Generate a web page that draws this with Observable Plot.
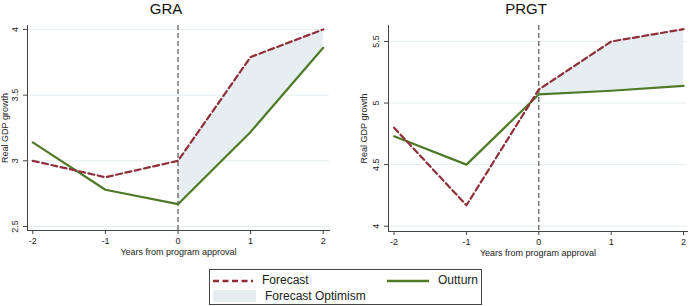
<!DOCTYPE html>
<html>
<head>
<meta charset="utf-8">
<script src="https://cdn.jsdelivr.net/npm/d3@7"></script>
<script src="https://cdn.jsdelivr.net/npm/@observablehq/plot@0.6"></script>
<style>
  html, body { margin: 0; padding: 0; background: #fff; }
  body { width: 690px; height: 306px; position: relative; overflow: hidden; font-family: "Liberation Sans", Arial, sans-serif; }
  .panel { position: absolute; top: 0; }
  .title { position: absolute; top: -1px; font-size: 15px; color: #111; text-align: center; width: 100px; line-height: 20px; }
  .legend { position: absolute; left: 209px; top: 269px; width: 273px; height: 36px; border: 1px solid #444; box-sizing: border-box; font-size: 12px; color: #222; }
  .legend .item { position: absolute; display: flex; align-items: center; }
  .legend svg { display: block; margin-right: 9px; }
</style>
</head>
<body>
<div id="root"></div>
<script>
// ---- data ----
const years = [-2, -1, 0, 1, 2];
const approvalYear = 0;
const graForecast = [3.0, 2.875, 3.0, 3.79, 4.0];
const graOutturn  = [3.14, 2.78, 2.67, 3.22, 3.86];
const prgtForecast = [4.80, 4.17, 5.11, 5.50, 5.60];
const prgtOutturn  = [4.73, 4.50, 5.07, 5.10, 5.14];
const graTicks = [2.5, 3, 3.5, 4];
const prgtTicks = [4, 4.5, 5, 5.5];
const xTicks = [-2, -1, 0, 1, 2];
const titles = ["GRA", "PRGT"];
const xLabel = "Years from program approval";
const yLabel = "Real GDP growth";
const legendLabels = ["Forecast", "Outturn", "Forecast Optimism"];

const forecastColor = "#8f2f3a";
const outturnColor = "#4f7a28";
const optimismColor = "#e6eef2";
const gridColor = "#e4edf0";

function rows(f, o) {
  return years.map((y, i) => ({year: y, forecast: f[i], outturn: o[i]}));
}

function panel({data, yTicks, xDomain, yDomain, marginLeft, marginRight, marginBottom, yLabelOffset}) {
  const after = data.filter(d => d.year >= approvalYear);
  return Plot.plot({
    width: 345,
    height: 260,
    marginTop: 25,
    marginLeft, marginRight, marginBottom,
    style: {fontFamily: "'Liberation Sans', Arial, sans-serif", fontSize: "9px", color: "#222", background: "transparent"},
    x: {domain: xDomain},
    y: {domain: yDomain},
    marks: [
      Plot.gridY(yTicks, {stroke: gridColor, strokeOpacity: 1, strokeWidth: 1}),
      Plot.areaY(after, {x: "year", y1: "outturn", y2: "forecast", fill: optimismColor}),
      Plot.ruleX([approvalYear], {stroke: "#555", strokeWidth: 1.2, strokeDasharray: "5,3"}),
      Plot.line(data, {x: "year", y: "outturn", stroke: outturnColor, strokeWidth: 2.2}),
      Plot.line(data, {x: "year", y: "forecast", stroke: forecastColor, strokeWidth: 2.2, strokeDasharray: "6,3.5"}),
      Plot.frame({anchor: "left", stroke: "#444"}),
      Plot.frame({anchor: "bottom", stroke: "#444"}),
      Plot.axisY(yTicks, {tickSize: 4, tickPadding: 6, tickRotate: -90, stroke: "#444",
        tickFormat: d => String(d),
        label: yLabel, labelAnchor: "center", labelArrow: "none", labelOffset: yLabelOffset, fontSize: 9}),
      Plot.axisX(xTicks, {tickSize: 4, tickPadding: 3, stroke: "#444",
        tickFormat: d => String(d),
        label: xLabel, labelAnchor: "center", labelArrow: "none", labelOffset: 24, fontSize: 9})
    ]
  });
}

const root = document.getElementById("root");

const left = panel({
  data: rows(graForecast, graOutturn),
  yTicks: graTicks,
  xDomain: [-2.073, 2.087],
  yDomain: [2.4695, 4.03],
  marginLeft: 27, marginRight: 16, marginBottom: 30,
  yLabelOffset: 26
});
left.classList.add("panel");
left.style.left = "0px";
root.appendChild(left);

const right = panel({
  data: rows(prgtForecast, prgtOutturn),
  yTicks: prgtTicks,
  xDomain: [-2.077, 2.055],
  yDomain: [3.957, 5.63],
  marginLeft: 43, marginRight: 3, marginBottom: 29,
  yLabelOffset: 28
});
right.classList.add("panel");
right.style.left = "345px";
root.appendChild(right);

[[titles[0], 166], [titles[1], 526]].forEach(([t, cx]) => {
  const d = document.createElement("div");
  d.className = "title";
  d.textContent = t;
  d.style.left = (cx - 50) + "px";
  root.appendChild(d);
});

// legend
const legend = document.createElement("div");
legend.className = "legend";
function item(x, y, label, swatch) {
  const it = document.createElement("div");
  it.className = "item";
  it.style.left = x + "px";
  it.style.top = y + "px";
  it.innerHTML = swatch + "<span>" + label + "</span>";
  legend.appendChild(it);
}
item(3, 3, legendLabels[0], `<svg width="40" height="14"><line x1="0" y1="8" x2="40" y2="8" stroke="${forecastColor}" stroke-width="2.4" stroke-dasharray="6,3.5"/></svg>`);
item(177, 3, legendLabels[1], `<svg width="42" height="14"><line x1="0" y1="8" x2="42" y2="8" stroke="${outturnColor}" stroke-width="2.4"/></svg>`);
item(3, 19, legendLabels[2], `<svg width="43" height="12"><rect x="0" y="0" width="43" height="12" fill="${optimismColor}"/></svg>`);
root.appendChild(legend);
</script>
</body>
</html>
